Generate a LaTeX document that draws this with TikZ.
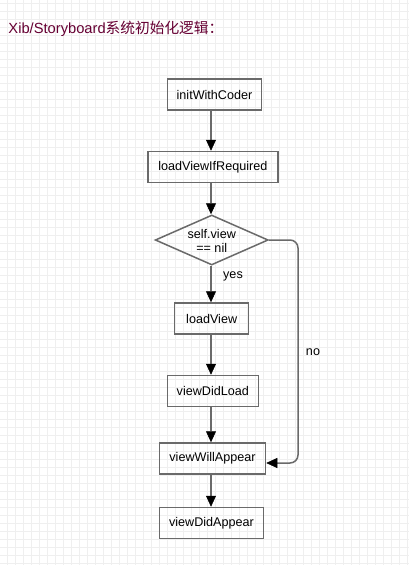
\documentclass[tikz,border=0pt]{standalone}
\usepackage{fontspec}
\setmainfont{Liberation Sans}
\newfontfamily\cjk{Noto Sans CJK SC}
\usetikzlibrary{shapes.geometric,arrows.meta}
\definecolor{gridc}{HTML}{EFEFEF}
\definecolor{linec}{HTML}{6A6A6A}
\definecolor{titlec}{RGB}{102,0,51}
\tikzset{
  box/.style={draw=linec, line width=1.5pt, rectangle, minimum height=31pt, inner sep=0pt, font=\fontsize{12.6}{14}\selectfont, text=black},
  cond/.style={draw=linec, line width=1.5pt, diamond, minimum width=113pt, minimum height=50pt, inner sep=0pt},
  arr/.style={draw=linec, line width=1.5pt, -{Triangle[length=11pt,width=10pt,color=black,line width=0.5pt]}},
  lbl/.style={font=\fontsize{12.6}{14}\selectfont, inner sep=0pt},
  gridline/.style={draw=gridc, line width=1pt}
}
\begin{document}
\begin{tikzpicture}[x=1pt,y=-1pt]
\useasboundingbox (0,0) rectangle (409,565);
\fill[white] (0,0) rectangle (409,565);
\foreach \i in {0,...,50} {
  \draw[gridline] ({7.5+8*\i},0) -- ({7.5+8*\i},565);
}
\foreach \j in {0,...,70} {
  \draw[gridline] (0,{3.5+8*\j}) -- (409,{3.5+8*\j});
}
\node[anchor=base west, inner sep=0pt, text=titlec, font=\fontsize{14.7}{16}\selectfont] (title) at (8.3,33.5) {Xib/Storyboard{\cjk 系统初始化逻辑：}};

\coordinate (axis) at (211,0);
\coordinate (noX) at (298,0);

\node[box, minimum width=94pt] (init) at (214.5,94.5) {initWithCoder};
\node[box, minimum width=130pt] (loadif) at (212.8,167) {loadViewIfRequired};
\node[cond] (dec) at (211.7,240) {};
\node[lbl, align=center] (dectext) at (211.7,240.5) {self.view\\== nil};
\node[box, minimum width=74pt] (loadview) at (211.7,318.5) {loadView};
\node[box, minimum width=91pt] (didload) at (212.8,391) {viewDidLoad};
\node[box, minimum width=106pt] (will) at (212.5,458.5) {viewWillAppear};
\node[box, minimum width=104pt] (didappear) at (211.5,523) {viewDidAppear};

\draw[arr] (init.south -| axis) -- (loadif.north -| axis);
\draw[arr] (loadif.south -| axis) -- (dec.north -| axis);
\draw[arr] (dec.south -| axis) -- (loadview.north -| axis);
\draw[arr] (loadview.south -| axis) -- (didload.north -| axis);
\draw[arr] (didload.south -| axis) -- (will.north -| axis);
\draw[arr] (will.south -| axis) -- (didappear.north -| axis);
\draw[arr, rounded corners=8pt] (dec.east) -- (dec.east -| noX) |- ([yshift=-4.5pt]will.east);

\node[lbl] (yes) at (233,276) {yes};
\node[lbl] (no) at (313,352) {no};
\end{tikzpicture}
\end{document}
